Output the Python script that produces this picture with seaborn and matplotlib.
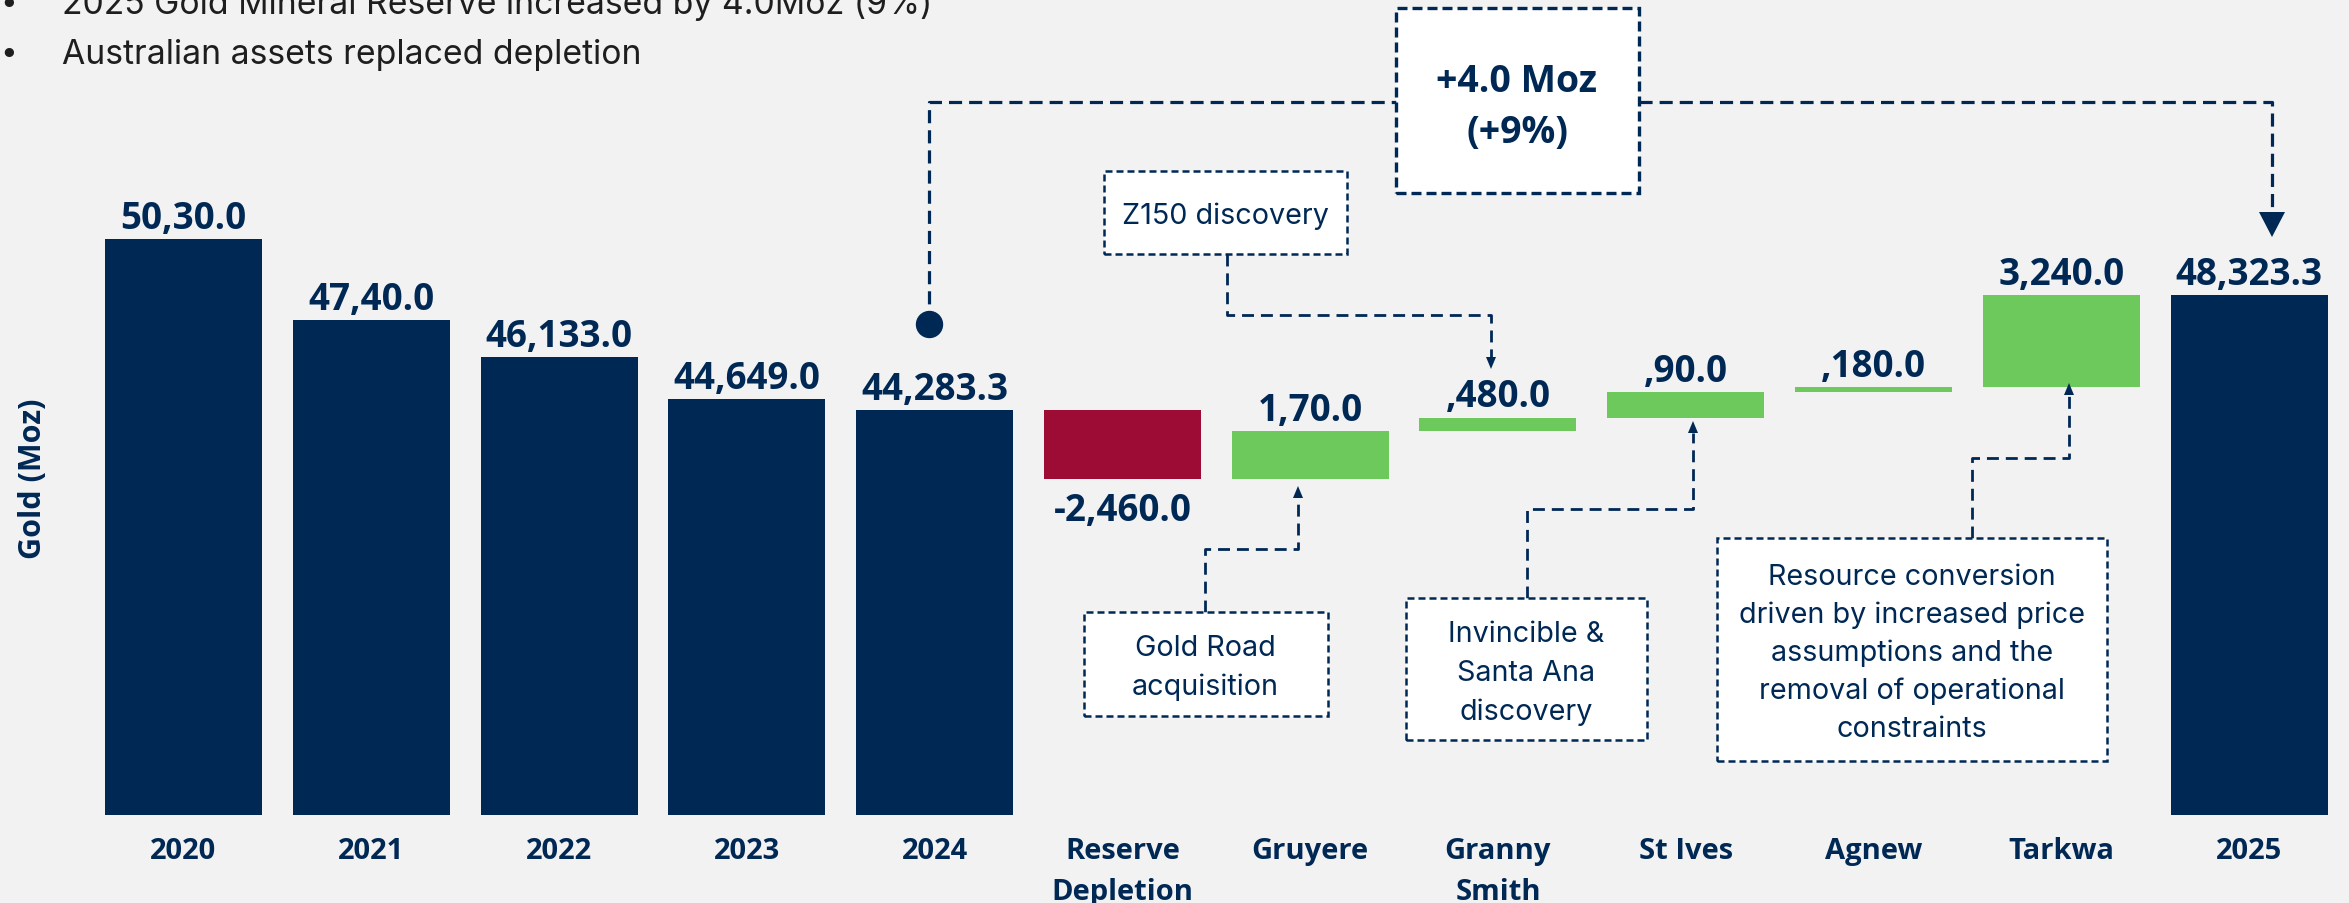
import numpy as np
import pandas as pd
import seaborn as sns
import matplotlib.pyplot as plt
from matplotlib.lines import Line2D
from matplotlib.patches import Rectangle, Polygon

# Gold Mineral Reserve waterfall, koz
steps = ['2020', '2021', '2022', '2023', '2024', 'Reserve\nDepletion', 'Gruyere',
         'Granny\nSmith', 'St Ives', 'Agnew', 'Tarkwa', '2025']
kinds = ['total'] * 5 + ['change'] * 6 + ['total']
values = [50300, 47440, 46133, 44649, 44283.3, -2460, 1700, 480, 900, 180, 3240, 48323.3]
value_labels = ['50,30.0', '47,40.0', '46,133.0', '44,649.0', '44,283.3', '-2,460.0',
                '1,70.0', ',480.0', ',90.0', ',180.0', '3,240.0', '48,323.3']

NAVY = '#002855'
RED = '#9c0c35'
GREEN = '#6dc95b'
BG = '#f2f2f2'
colours = {'total': NAVY, 'down': RED, 'up': GREEN}
BOLD = dict(family=['Open Sans', 'DejaVu Sans'], fontweight='bold')

# build floating bars
bottoms, heights, groups = [], [], []
running = 0
for k, v in zip(kinds, values):
    if k == 'total':
        bottoms.append(0)
        heights.append(v)
        groups.append('total')
        running = v
    else:
        bottoms.append(min(running, running + v))
        heights.append(abs(v))
        groups.append('down' if v < 0 else 'up')
        running += v
df = pd.DataFrame({'step': steps, 'bottom': bottoms, 'height': heights,
                   'group': groups, 'label': value_labels})

W, H = 2349, 904
fig = plt.figure(figsize=(W / 100, H / 100), dpi=100, facecolor=BG)
ax = fig.add_axes([89.6 / W, 1 - 815.7 / H, (2343 - 89.6) / W, 815.7 / H])
ax.set_facecolor(BG)

for grp, col in colours.items():
    sub = df[df['group'] == grp]
    sns.barplot(data=sub, x='step', y='height', order=steps, color=col,
                saturation=1, width=0.836, errorbar=None,
                bottom=sub['bottom'].to_numpy(), ax=ax)

ax.set_xlim(-0.5, len(steps) - 0.5)
ax.set_ylim(30000, 30000 + 815.7 * 35.26)
for s in ax.spines.values():
    s.set_visible(False)
ax.set_yticks([])
ax.set_xlabel('')
ax.set_ylabel('')
ax.set_xticks(range(len(steps)))
ax.set_xticklabels(steps, fontsize=21, color=NAVY, linespacing=1.55, **BOLD)
ax.tick_params(axis='x', length=0, pad=15)

# value labels
for i, row in df.iterrows():
    if row['group'] == 'down':
        ax.annotate(row['label'], (i, row['bottom']), xytext=(0, -29),
                    textcoords='offset points', ha='center', va='baseline',
                    fontsize=26.5, color=NAVY, **BOLD)
    else:
        ax.annotate(row['label'], (i, row['bottom'] + row['height']), xytext=(0, 8),
                    textcoords='offset points', ha='center', va='baseline',
                    fontsize=26.5, color=NAVY, **BOLD)

fig.text(33 / W, 1 - 479 / H, 'Gold (Moz)', rotation=90, ha='center', va='center',
         fontsize=22, color=NAVY, **BOLD)


# ---- callouts, in reference pixel coordinates (y from top) ----
def fx(x):
    return x / W


def fy(y):
    return 1 - y / H


def path(xs, ys, lw=2.0, dash=(4.3, 2.5)):
    fig.add_artist(Line2D([fx(x) for x in xs], [fy(y) for y in ys],
                          transform=fig.transFigure, color=NAVY, lw=lw,
                          linestyle=(0, dash), dash_capstyle='butt'))


def head(x, tip, base, w):
    fig.add_artist(Polygon([(fx(x - w / 2), fy(base)), (fx(x + w / 2), fy(base)),
                            (fx(x), fy(tip))], closed=True, transform=fig.transFigure,
                           color=NAVY, lw=0))


def box(x0, y0, x1, y1, lw=1.8, dash=(2.8, 1.6)):
    fig.add_artist(Rectangle((fx(x0), fy(y1)), fx(x1) - fx(x0), fy(y0) - fy(y1),
                             transform=fig.transFigure, facecolor='white',
                             edgecolor=NAVY, lw=lw, linestyle=(0, dash), zorder=3))


def lines(x, baselines, texts, **kw):
    for b, t in zip(baselines, texts):
        fig.text(fx(x), fy(b), t, ha='center', va='baseline', color=NAVY,
                 zorder=4, **kw)


small = dict(fontsize=20.7, family=['Inter', 'DejaVu Sans'])

# total change
path([929, 929, 1396], [325, 103, 103], lw=2.3, dash=(4.1, 2.2))
path([1639, 2272, 2272], [103, 103, 213], lw=2.3, dash=(4.1, 2.2))
head(2272, 238, 213, 26)
fig.add_artist(Line2D([fx(929)], [fy(325)], marker='o', markersize=18.7, color=NAVY,
                      transform=fig.transFigure))
box(1396, 9, 1639, 194, lw=2.4, dash=(3, 1.5))
lines(1517, [92, 143], ['+4.0 Moz', '(+9%)'], fontsize=27, **BOLD)

# Z150
box(1104, 172, 1347, 255)
lines(1225, [224], ['Z150 discovery'], **small)
path([1227, 1227, 1491, 1491], [255, 316, 316, 358])
head(1491, 370, 358, 10)

# Gold Road
box(1084, 613, 1328, 717)
lines(1205, [656, 695], ['Gold Road', 'acquisition'], **small)
path([1205, 1205, 1298, 1298], [613, 550, 550, 499])
head(1298, 487, 499, 10)

# Invincible & Santa Ana
box(1406, 599, 1647, 741)
lines(1526, [642, 681, 720], ['Invincible &', 'Santa Ana', 'discovery'], **small)
path([1527, 1527, 1693, 1693], [599, 510, 510, 434])
head(1693, 422, 434, 10)

# Tarkwa conversion
box(1717, 539, 2107, 762)
lines(1912, [585, 623, 661, 699, 737],
      ['Resource conversion', 'driven by increased price', 'assumptions and the',
       'removal of operational', 'constraints'], **small)
path([1972, 1972, 2069, 2069], [539, 459, 459, 396])
head(2069, 384, 396, 10)

# bullet text at top
for b, t in [(14, '2025 Gold Mineral Reserve increased by 4.0Moz (9%)'),
             (64, 'Australian assets replaced depletion')]:
    fig.text(fx(9), fy(b), '•', ha='center', va='baseline', fontsize=23, color='#1e1e1e')
    fig.text(fx(62), fy(b), t, ha='left', va='baseline', fontsize=24.3, color='#1e1e1e',
             family=['Inter', 'DejaVu Sans'])

fig.savefig('out.png', dpi=100, facecolor=BG)
